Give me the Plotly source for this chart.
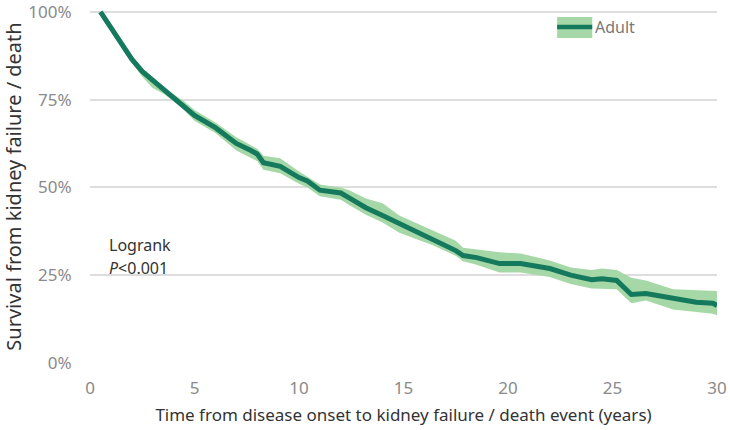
import plotly.graph_objects as go

# Time (years) and Kaplan-Meier survival (%) with 95% CI
time = [0.5, 1.0, 1.5, 2.0, 2.5, 3.0, 3.5, 4.0, 4.5, 5.0, 6.0, 7.0, 7.7, 8.0, 8.3, 9.1,
        10.0, 10.4, 11.0, 12.0, 12.4, 13.2, 14.0, 14.8, 16.4, 17.5, 17.85, 18.5, 19.6,
        20.6, 22.0, 23.0, 24.0, 24.5, 25.2, 25.9, 26.6, 27.9, 29.0, 29.8, 30.0]
survival = [100, 95.5, 90.8, 86.5, 83.0, 80.5, 78.2, 75.5, 73.0, 70.5, 67.0, 62.5, 60.5,
            59.5, 57.0, 56.0, 52.8, 51.8, 49.2, 48.4, 47.0, 44.2, 42.0, 39.7, 35.4, 32.0,
            30.6, 30.0, 28.3, 28.3, 26.9, 25.0, 23.7, 24.0, 23.5, 19.5, 19.8, 18.4, 17.3,
            17.0, 16.4]
upper = [100, 96.2, 91.8, 87.0, 83.5, 80.7, 78.5, 76.5, 74.5, 72.0, 68.5, 64.3, 62.0,
         61.0, 59.0, 58.3, 54.5, 53.0, 50.8, 50.0, 49.2, 46.8, 45.5, 42.0, 37.7, 34.8,
         32.8, 32.3, 31.5, 31.2, 29.2, 27.2, 26.5, 26.9, 26.5, 24.3, 23.5, 21.0, 20.7,
         20.5, 20.5]
lower = [100, 94.8, 89.8, 85.5, 81.5, 78.3, 76.7, 74.5, 72.0, 69.0, 65.5, 60.5, 58.5,
         57.5, 55.0, 54.0, 51.0, 50.0, 47.5, 46.5, 45.0, 42.2, 40.0, 37.1, 33.5, 30.5,
         29.0, 28.0, 25.8, 25.8, 24.5, 22.5, 21.2, 21.2, 21.0, 17.0, 17.8, 15.2, 14.5,
         14.0, 13.6]

x_ticks = [0, 5, 10, 15, 20, 25, 30]
y_ticks = [0, 25, 50, 75, 100]
y_tick_labels = ["0%", "25%", "50%", "75%", "100%"]
series_name = "Adult"

LINE = "#157a5d"
BAND = "#a5d8a6"
FONT = "Noto Sans"

fig = go.Figure()
fig.add_trace(go.Scatter(x=time, y=upper, mode="lines", line=dict(width=0),
                         showlegend=False, hoverinfo="skip"))
fig.add_trace(go.Scatter(x=time, y=lower, mode="lines", line=dict(width=0),
                         fill="tonexty", fillcolor=BAND, showlegend=False, hoverinfo="skip"))
fig.add_trace(go.Scatter(x=time, y=survival, mode="lines", name=series_name,
                         line=dict(color=LINE, width=5), showlegend=False))

# legend drawn as shapes: band swatch with line, then label
fig.add_shape(type="rect", xref="paper", yref="paper", x0=0.745, x1=0.801, y0=0.921, y1=0.980,
              fillcolor=BAND, line=dict(width=0), layer="above")
fig.add_shape(type="line", xref="paper", yref="paper", x0=0.745, x1=0.801, y0=0.952, y1=0.952,
              line=dict(color=LINE, width=4.5), layer="above")
fig.add_annotation(x=0.803, y=0.952, xref="paper", yref="paper", xanchor="left", yanchor="middle",
                   showarrow=False, text=series_name,
                   font=dict(family=FONT, size=16, color="#777777"))

fig.add_annotation(x=0.8, y=33.6, xref="x", yref="y", xanchor="left", yanchor="middle",
                   showarrow=False, text="Logrank",
                   font=dict(family=FONT, size=16, color="#333333"))
fig.add_annotation(x=0.8, y=27.0, xref="x", yref="y", xanchor="left", yanchor="middle",
                   showarrow=False, text="<i>P</i>&lt;0.001",
                   font=dict(family=FONT, size=16, color="#333333"))

fig.update_layout(
    width=730, height=430,
    margin=dict(l=90, r=13, t=10, b=67, autoexpand=False),
    paper_bgcolor="white", plot_bgcolor="white",
    font=dict(family=FONT, size=16, color="#888888"),
    showlegend=False,
    xaxis=dict(range=[0, 30], tickvals=x_ticks, showgrid=False, zeroline=False,
               showline=False, ticks="outside", ticklen=10, tickcolor="rgba(0,0,0,0)",
               automargin=False, ticklabeloverflow="allow",
               tickfont=dict(size=17, color="#8a8a8a"),
               title=dict(text="Time from disease onset to kidney failure / death event (years)",
                          font=dict(size=17, color="#333333"), standoff=10)),
    yaxis=dict(range=[0, 100.5], tickvals=y_ticks, ticktext=y_tick_labels,
               showgrid=True, gridcolor="#dddddd", gridwidth=1.5, zeroline=False,
               showline=False, ticks="outside", ticklen=14, tickcolor="rgba(0,0,0,0)",
               automargin=False, ticklabeloverflow="allow",
               tickfont=dict(size=17, color="#8a8a8a"),
               title=dict(text="Survival from kidney failure / death",
                          font=dict(size=20, color="#333333"), standoff=6)),
)
fig.write_html("out.html")
